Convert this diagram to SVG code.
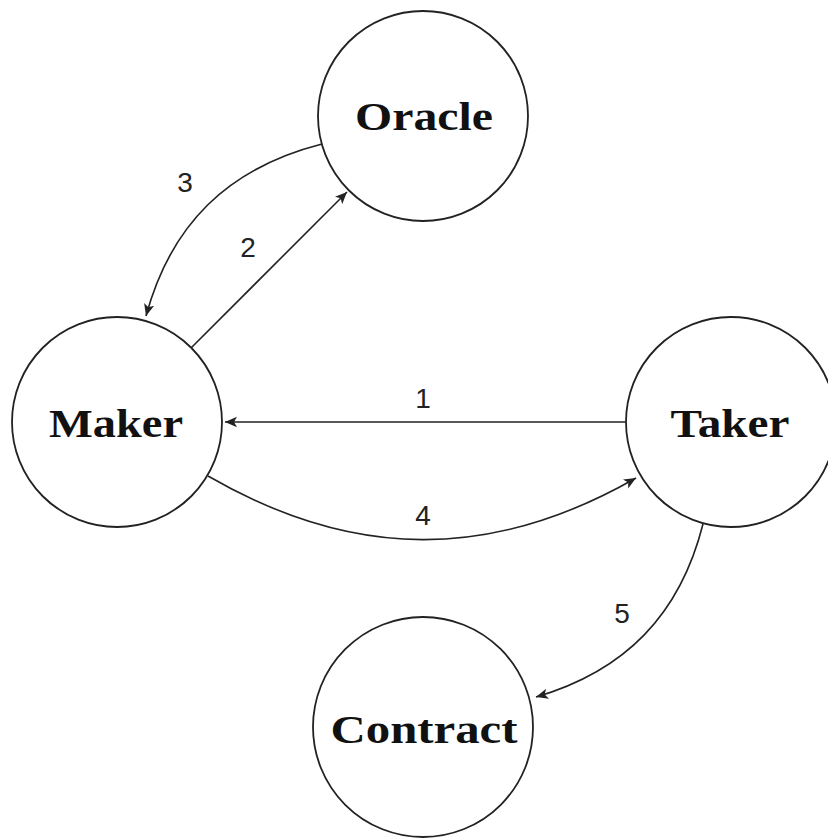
<svg xmlns="http://www.w3.org/2000/svg" width="828" height="840" viewBox="0 0 828 840">
<style>
.node{fill:#fff;stroke:#222;stroke-width:1.8}
.nt{font-family:"Liberation Serif","DejaVu Serif",serif;font-weight:bold;font-size:40px;fill:#111;text-anchor:middle}
.edge{fill:none;stroke:#222;stroke-width:1.6}
.lbl{font-family:"Liberation Sans","DejaVu Sans",sans-serif;font-size:28px;fill:#222;text-anchor:middle}
</style>
<defs>
<marker id="arr" markerUnits="userSpaceOnUse" markerWidth="14" markerHeight="12" refX="12" refY="6" orient="auto">
<path d="M0,0.8 L12,6 L0,11.2 L3,6 z" fill="#222"/>
</marker>
</defs>
<rect width="828" height="840" fill="#fff"/>
<g id="connectors">
<line class="edge" x1="626" y1="422" x2="225" y2="422" marker-end="url(#arr)"/>
<line class="edge" x1="191" y1="348" x2="347" y2="192" marker-end="url(#arr)"/>
<path class="edge" d="M322,144 C228,168 171,224 146,316" marker-end="url(#arr)"/>
<path class="edge" d="M208,476 C353,560 491,561 636,478" marker-end="url(#arr)"/>
<path class="edge" d="M703,524 C680,615 625,671 536,697" marker-end="url(#arr)"/>
<text class="lbl" x="423" y="408">1</text>
<text class="lbl" x="248" y="257">2</text>
<text class="lbl" x="185" y="192">3</text>
<text class="lbl" x="423" y="525">4</text>
<text class="lbl" x="622" y="623">5</text>
</g>
<g id="oracle"><circle class="node" cx="423" cy="116" r="105"/><text class="nt" x="424" y="130" textLength="138" lengthAdjust="spacingAndGlyphs">Oracle</text></g>
<g id="maker"><circle class="node" cx="117" cy="422" r="105"/><text class="nt" x="116" y="437" textLength="134" lengthAdjust="spacingAndGlyphs">Maker</text></g>
<g id="taker"><circle class="node" cx="731" cy="422" r="105"/><text class="nt" x="730" y="437" textLength="119" lengthAdjust="spacingAndGlyphs">Taker</text></g>
<g id="contract"><circle class="node" cx="423" cy="727" r="110"/><text class="nt" x="424" y="743" textLength="187" lengthAdjust="spacingAndGlyphs">Contract</text></g>
</svg>
